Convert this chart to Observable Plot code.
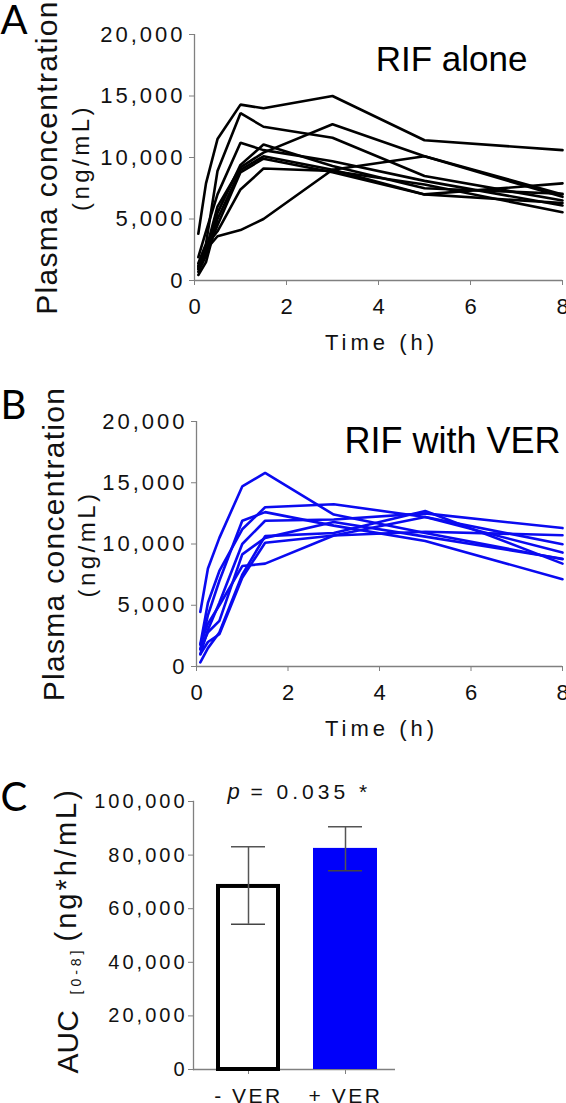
<!DOCTYPE html>
<html>
<head>
<meta charset="utf-8">
<script src="https://cdn.jsdelivr.net/npm/d3@7"></script>
<script src="https://cdn.jsdelivr.net/npm/@observablehq/plot@0.6"></script>
<style>
  html, body { margin: 0; padding: 0; background: #fff; overflow: hidden; }
  #wrap { width: 566px; }
  #wrap svg { display: block; overflow: visible; }
</style>
</head>
<body>
<div id="wrap"></div>
<script>
// ---------------- data ----------------
const times = [0.083, 0.25, 0.5, 1, 1.5, 3, 5, 8];

// Panel A: RIF alone (ng/mL), one row per subject
const rifAlone = [
  [3800, 7900, 11500, 14300, 14000, 15000, 11400, 10600],
  [1400, 3000, 8900, 13600, 12500, 11600, 8500, 6500],
  [1100, 2500, 6000, 9200, 10400, 12700, 10100, 6800],
  [1900, 4000, 7000, 11200, 10600, 9700, 8100, 6100],
  [700, 2000, 5500, 9400, 11050, 9300, 7500, 7050],
  [450, 1500, 5000, 9000, 10100, 9000, 7000, 7900],
  [900, 2200, 4500, 8800, 9900, 8800, 7000, 6300],
  [1200, 2800, 4000, 7400, 9100, 8900, 7800, 5550],
  [1000, 2500, 3600, 4100, 5000, 9000, 10100, 7000]
];

// Panel B: RIF with VER (ng/mL)
const rifVer = [
  [4450, 8000, 10500, 14700, 15800, 12400, 10900, 8760],
  [1800, 5200, 7800, 11200, 13000, 13250, 12200, 9300],
  [1400, 4200, 7000, 11900, 12600, 11500, 10250, 7130],
  [1000, 3000, 5200, 10000, 11900, 12000, 12500, 11300],
  [330, 1500, 2770, 7500, 10640, 10900, 12700, 8400],
  [1000, 2000, 2630, 7250, 10100, 10700, 11000, 10720],
  [1800, 3500, 5000, 8200, 8400, 10700, 12200, 9980],
  [1400, 2800, 3720, 9150, 10500, 11800, 10600, 8800]
];

// Panel C: AUC[0-8]
const aucGroups = ["- VER", "+ VER"];
const aucMean = [68300, 82500];
const aucLower = [54200, 74200];
const aucUpper = [83100, 90600];

const concTicks = [0, 5000, 10000, 15000, 20000];
const timeTicks = [0, 2, 4, 6, 8];
const aucTicks = [0, 20000, 40000, 60000, 80000, 100000];

const panelLabels = ["A", "B", "C"];
const panelTitles = ["RIF alone", "RIF with VER"];
const yLabel1 = "Plasma concentration";
const yLabel2 = "(ng/mL)";
const xLabel = "Time (h)";
const aucLabelParts = ["AUC", "[0-8]", "(ng*h/mL)"];
const pLabel = ["p", "= 0.035 *"];

// ---------------- helpers ----------------
const FONT = "'Liberation Sans', Arial, sans-serif";
const LETTER = "Lato, 'Open Sans', sans-serif";
const AXIS = "#808080";
const fmt = d3.format(",");

function toLong(rows) {
  return rows.flatMap((vals, i) => vals.map((v, j) => ({subject: i, time: times[j], conc: v})));
}

function spacing(svg, map) {
  d3.select(svg).selectAll("text").each(function () {
    const t = this.textContent;
    if (map[t] != null) this.style.letterSpacing = map[t] + "px";
  });
  d3.select(svg).selectAll('g[aria-label="y-axis tick label"] text').style("letter-spacing", "3px");
}

function concPanel(rows, color, letter, title, geom) {
  const W = 566, H = 370;
  const {mL, mT, mB, letterBase, titleEnd, titleBase, titleSize, ylabX1, ylabX2, xlabBase, letterSize} = geom;
  const mR = 4;
  const fx = (x) => x - mL;   // panel x -> dx from frame left
  const fy = (y) => y - mT;   // panel y -> dy from frame top
  const plotH = H - mT - mB;
  const svg = Plot.plot({
    width: W, height: H,
    marginLeft: mL, marginRight: mR, marginTop: mT, marginBottom: mB,
    style: {fontFamily: FONT, fontSize: "22px", color: "#111", background: "#fff", overflow: "visible"},
    x: {domain: [0, 8]},
    y: {domain: [0, 20000]},
    marks: [
      Plot.ruleX([0], {y1: 0, y2: 20000, stroke: AXIS, strokeWidth: 1.3}),
      Plot.ruleY([0], {x1: 0, x2: 8, stroke: AXIS, strokeWidth: 1.3}),
      Plot.axisY({ticks: concTicks, tickFormat: fmt, tickSize: 5, tickPadding: 4, stroke: AXIS, fill: "#111", fontSize: 22, label: null}),
      Plot.axisX({ticks: timeTicks, tickSize: 5, tickPadding: 13, stroke: AXIS, fill: "#111", fontSize: 22, label: null}),
      Plot.line(toLong(rows), {x: "time", y: "conc", z: "subject", stroke: color, strokeWidth: 2.6, strokeLinejoin: "miter"}),
      Plot.text([letter], {frameAnchor: "top-left", dx: fx(0), dy: fy(letterBase), textAnchor: "start", lineAnchor: "bottom", fontSize: letterSize, fontFamily: LETTER, fill: "#000"}),
      Plot.text([title], {frameAnchor: "top-left", dx: fx(titleEnd), dy: fy(titleBase), textAnchor: "end", lineAnchor: "bottom", fontSize: titleSize, fill: "#000"}),
      Plot.text([yLabel1], {frameAnchor: "top-left", dx: fx(ylabX1), dy: plotH / 2, rotate: -90, textAnchor: "middle", lineAnchor: "bottom", fontSize: 30, fill: "#111"}),
      Plot.text([yLabel2], {frameAnchor: "top-left", dx: fx(ylabX2), dy: plotH / 2, rotate: -90, textAnchor: "middle", lineAnchor: "bottom", fontSize: 24, fill: "#111"}),
      Plot.text([xLabel], {frameAnchor: "top-left", dx: fx(381), dy: fy(xlabBase), textAnchor: "middle", lineAnchor: "bottom", fontSize: 22, fill: "#111"})
    ]
  });
  spacing(svg, {"(ng/mL)": 3.5, "Time (h)": 4, "Plasma concentration": 1.3});
  return svg;
}

const wrap = document.getElementById("wrap");

wrap.appendChild(concPanel(rifAlone, "#000", panelLabels[0], panelTitles[0], {
  mL: 194, mT: 34, mB: 90, letterBase: 33, letterSize: 40, titleEnd: 527, titleBase: 70, titleSize: 35,
  ylabX1: 56, ylabX2: 88, xlabBase: 349
}));

wrap.appendChild(concPanel(rifVer, "#0a0af0", panelLabels[1], panelTitles[1], {
  mL: 196, mT: 51, mB: 74, letterBase: 48, letterSize: 40, titleEnd: 560, titleBase: 82, titleSize: 36,
  ylabX1: 63, ylabX2: 94, xlabBase: 365
}));

// Panel C
(function () {
  const W = 566, H = 363, mL = 193, mR = 171, mT = 61, mB = 34, top = 740;
  const fx = (x) => x - mL;
  const fy = (y) => y - top - mT;   // page y -> dy from frame top
  const auc = aucGroups.map((g, i) => ({group: g, mean: aucMean[i], lower: aucLower[i], upper: aucUpper[i]}));
  const svg = Plot.plot({
    width: W, height: H,
    marginLeft: mL, marginRight: mR, marginTop: mT, marginBottom: mB,
    style: {fontFamily: FONT, fontSize: "20px", color: "#111", background: "#fff", overflow: "visible"},
    x: {domain: aucGroups, paddingInner: 0.34, paddingOuter: 0.21, align: 0.57},
    y: {domain: [0, 100000]},
    marks: [
      Plot.ruleY([0], {stroke: AXIS, strokeWidth: 1.3}),
      Plot.frame({anchor: "left", stroke: AXIS, strokeWidth: 1.3}),
      Plot.axisY({ticks: aucTicks, tickFormat: fmt, tickSize: 5, tickPadding: 1, stroke: AXIS, fill: "#111", fontSize: 20, label: null}),
      Plot.axisX({tickSize: 5, tickPadding: 14, stroke: AXIS, fill: "#111", fontSize: 21, label: null}),
      Plot.barY(auc.filter(d => d.group === aucGroups[0]), {x: "group", y: "mean", fill: "#fff", stroke: "#000", strokeWidth: 4, insetLeft: 2, insetRight: 2}),
      Plot.barY(auc.filter(d => d.group === aucGroups[1]), {x: "group", y: "mean", fill: "#0000fa"}),
      Plot.ruleX(auc, {x: "group", y1: "lower", y2: "upper", stroke: "#555", strokeWidth: 1.5}),
      Plot.tickY(auc, {x: "group", y: "upper", stroke: "#555", strokeWidth: 1.5, insetLeft: 15, insetRight: 15}),
      Plot.tickY(auc, {x: "group", y: "lower", stroke: "#444", strokeWidth: 1.5, insetLeft: 15, insetRight: 15}),
      Plot.text([panelLabels[2]], {frameAnchor: "top-left", dx: fx(0), dy: fy(810), textAnchor: "start", lineAnchor: "bottom", fontSize: 40, fontFamily: LETTER, fill: "#000"}),
      Plot.text([pLabel[0]], {frameAnchor: "top-left", dx: fx(227), dy: fy(798), textAnchor: "start", lineAnchor: "bottom", fontSize: 22, fontStyle: "italic", fill: "#111"}),
      Plot.text([pLabel[1]], {frameAnchor: "top-left", dx: fx(250), dy: fy(798), textAnchor: "start", lineAnchor: "bottom", fontSize: 21, fill: "#111"}),
      Plot.text([aucLabelParts[0]], {frameAnchor: "top-left", dx: fx(77), dy: fy(1073), rotate: -90, textAnchor: "start", lineAnchor: "bottom", fontSize: 30, fill: "#111"}),
      Plot.text([aucLabelParts[1]], {frameAnchor: "top-left", dx: fx(80), dy: fy(994), rotate: -90, textAnchor: "start", lineAnchor: "bottom", fontSize: 14, fill: "#111"}),
      Plot.text([aucLabelParts[2]], {frameAnchor: "top-left", dx: fx(75), dy: fy(941), rotate: -90, textAnchor: "start", lineAnchor: "bottom", fontSize: 29, fill: "#111"})
    ]
  });
  spacing(svg, {"= 0.035 *": 4, "- VER": 2.5, "+ VER": 2.5, "[0-8]": 4, "(ng*h/mL)": 3});
  d3.select(svg).selectAll('g[aria-label="x-axis tick label"] text').style("letter-spacing", "2.5px");
  wrap.appendChild(svg);
})();
</script>
</body>
</html>
